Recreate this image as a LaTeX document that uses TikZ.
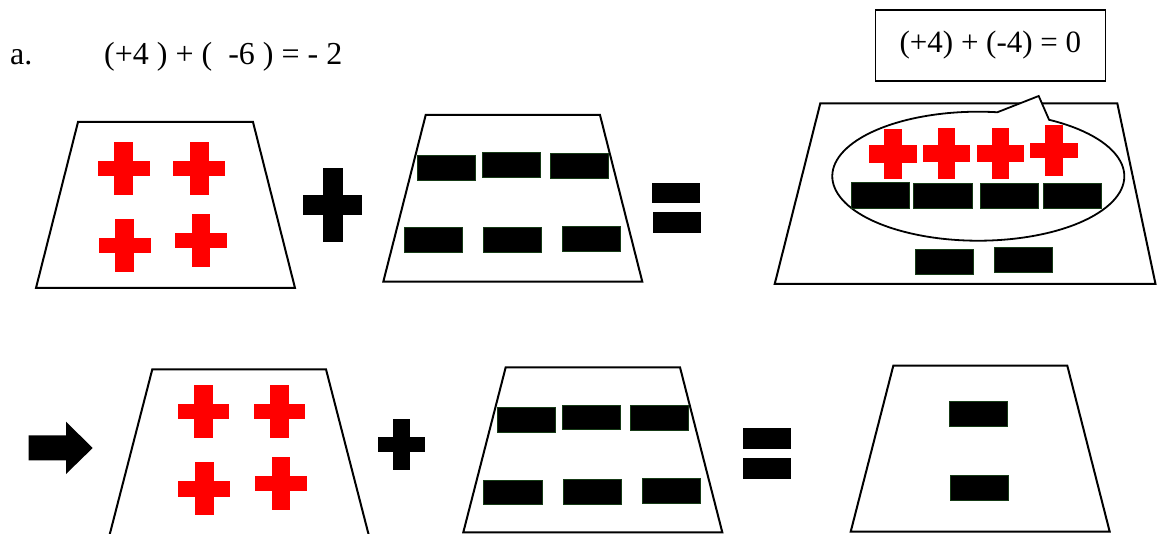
\documentclass[tikz,border=0pt]{standalone}
\usepackage{fontspec}
\setmainfont{Liberation Serif}
\definecolor{chipedge}{RGB}{22,58,22}
\tikzset{
  pics/chip/.style n args={4}{code={
    \fill (-#1,-#4) rectangle (#1,#4);
    \fill (-#3,-#2) rectangle (#3,#2);
  }}
}
\begin{document}
\begin{tikzpicture}[x=1pt,y=-1pt,
  mat/.style={draw=black,line width=2pt,line join=miter,fill=white},
  neg/.style={fill=black,draw=chipedge,line width=0.9pt},
  bar/.style={fill=black},
  txt/.style={font=\fontsize{32}{35}\selectfont,inner sep=0pt,anchor=base west}]
\useasboundingbox (0,0) rectangle (1157,534);
% heading
\node[txt] (lbl) at (10,65) {a.};
\node[txt] (eqn) at (104,65) {(+4 ) + (~~-6 ) = - 2};
\node[draw,line width=1.5pt,minimum width=230pt,minimum height=71pt,
  font=\fontsize{31}{34}\selectfont] (sum) at (990.4,45.5) {(+4) + (-4) = 0};
% first row
\draw[mat] (78,122) -- (253,122) -- (295,288) -- (36,288) -- cycle;
\pic[red] at (123.5,168.5) {chip={26}{26.5}{9.2}{7.6}};
\pic[red] at (199.3,168.5) {chip={26}{26.5}{9.2}{7.6}};
\pic[red] at (124.5,245.7) {chip={26}{26.5}{9.2}{7.6}};
\pic[red] at (201,240.5) {chip={26}{26.5}{9.2}{7.6}};
\pic[black] at (332.8,205.3) {chip={29.5}{37}{10}{10}};
\draw[mat] (425.7,115) -- (600,115) -- (642.3,281.7) -- (383.3,281.7) -- cycle;
\draw[neg] (417,155.3) rectangle (475,180);
\draw[neg] (482,152.7) rectangle (540,177.7);
\draw[neg] (550,153.3) rectangle (608,178.7);
\draw[neg] (404,227.7) rectangle (462,252.3);
\draw[neg] (483,227.7) rectangle (541.3,252.3);
\draw[neg] (562,226.7) rectangle (620,251.3);
\fill[bar] (652.3,182.7) rectangle (700.3,203.3);
\fill[bar] (653.3,212.3) rectangle (701,233);
\draw[mat] (820.3,103.3) -- (1117.3,103.3) -- (1155.5,284) -- (774.7,284) -- cycle;
\draw[line width=1.8pt,fill=white] ([shift={(-61:146 and 64.5)}]978.3,176.2)
  arc[start angle=-61,end angle=277.5,x radius=146,y radius=64.5]
  -- (1038.7,96) -- cycle;
\pic[red] at (892.8,154) {chip={23.7}{25.3}{8.7}{8.8}};
\pic[red] at (946.7,153.3) {chip={23.4}{25.6}{8.4}{8.7}};
\pic[red] at (1000.7,153.5) {chip={23.4}{25.4}{8.5}{8.7}};
\pic[red] at (1054,150.7) {chip={23.7}{25.4}{8.7}{7.5}};
\draw[neg] (851.3,182.7) rectangle (909,208);
\draw[neg] (913.3,183.7) rectangle (972,208.3);
\draw[neg] (980.3,183) rectangle (1038.7,208);
\draw[neg] (1043,183) rectangle (1101.3,208);
\draw[neg] (915.3,249.3) rectangle (973.3,274.3);
\draw[neg] (994.3,247.7) rectangle (1052.3,272.3);
% second row
\fill[bar] (28.7,435.3) -- (66,435.3) -- (66,421.7) -- (92.7,448)
  -- (66,474) -- (66,460.3) -- (28.7,460.3) -- cycle;
\draw[mat] (152.3,369.3) -- (326,369.3) -- (369,536) -- (109.3,536) -- cycle;
\pic[red] at (203.5,411.7) {chip={25.8}{26.7}{9.2}{7.6}};
\pic[red] at (279.5,411.7) {chip={25.8}{26.7}{9.2}{7.6}};
\pic[red] at (204.3,488.8) {chip={26}{26.5}{9.2}{7.7}};
\pic[red] at (280.7,483.7) {chip={26}{26.7}{9.2}{7.5}};
\pic[black] at (401.5,444.5) {chip={23.5}{25.3}{8.2}{7.2}};
\draw[mat] (505.7,367.3) -- (680,367.3) -- (722.3,532.3) -- (463.3,532.3) -- cycle;
\draw[neg] (497.3,407.3) rectangle (555.3,432);
\draw[neg] (562,405.3) rectangle (620,429.7);
\draw[neg] (630,405.7) rectangle (688,430.3);
\draw[neg] (483.7,480) rectangle (542,504.7);
\draw[neg] (563,479.3) rectangle (621,504);
\draw[neg] (642,478.7) rectangle (700.3,503.3);
\fill[bar] (742.7,428.3) rectangle (790.7,449);
\fill[bar] (743.3,458) rectangle (791.3,478.7);
\draw[mat] (893.3,365.7) -- (1067.3,365.7) -- (1109.7,531.7) -- (850.7,531.7) -- cycle;
\draw[neg] (949.3,401) rectangle (1007.3,426);
\draw[neg] (950.3,475.7) rectangle (1008.3,500.3);
\end{tikzpicture}
\end{document}
